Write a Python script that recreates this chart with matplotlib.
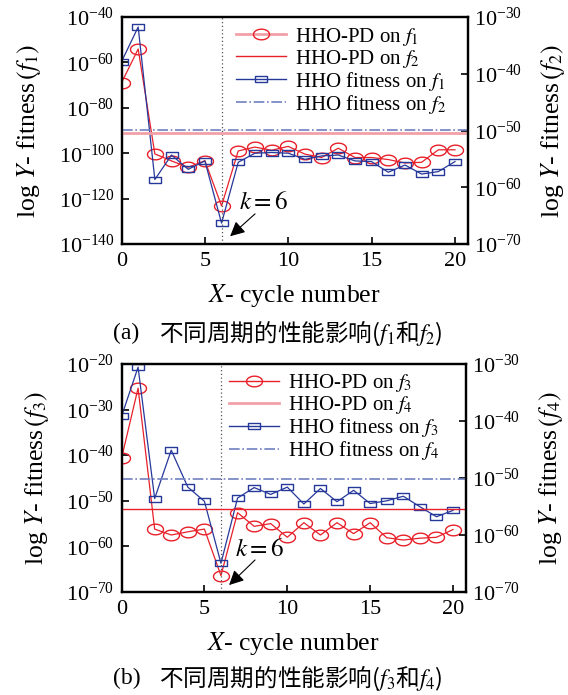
import numpy as np
import matplotlib
matplotlib.use('Agg')
import matplotlib.pyplot as plt
from matplotlib.lines import Line2D
from matplotlib.ticker import FixedLocator, FuncFormatter, NullLocator

plt.rcParams['font.family'] = ['Liberation Serif', 'DejaVu Serif']
plt.rcParams['mathtext.fontset'] = 'stix'

# cycle number on x
cycles = list(range(21))

# log10 of fitness
pd_f1 = [-69, -54.1, -100.3, -103.4, -106.2, -103.3, -123.2, -99, -97.3, -98.7, -97,
         -100.4, -101.9, -97.8, -101.9, -101.9, -102.8, -104.3, -104, -98.5, -98.5]
fit_f1 = [-59.7, -44.4, -111.6, -100.8, -107.1, -103.4, -130.8, -104, -100, -99.7, -100,
          -102.7, -101.2, -100.8, -103.4, -103.7, -108.4, -105.2, -109.2, -108.1, -103.7]
pd_f2 = -50.5      # constant, right axis
fit_f2 = -49.9

pd_f3 = [-40.7, -25.3, -56.2, -57.5, -56.8, -56.2, -66.4, -52.6, -55.6, -55, -58,
         -54.8, -57.5, -54.8, -57.2, -54.8, -58.1, -58.6, -58.2, -58, -56.3]
fit_f3 = [-31.5, -20.7, -49.5, -38.9, -47, -50.1, -63.7, -49.4, -47.1, -48.6, -47,
          -50.7, -47.3, -50.2, -47.7, -50.6, -50, -49, -51.3, -53.5, -52.1]
pd_f4 = -55.5
fit_f4 = -50.2

k_best = 6

RED = '#e8202a'
PINK = '#f2a0a8'
NAVY = '#26389a'
SLATE = '#7080c0'

t = np.linspace(0, 2 * np.pi, 60)
ellipse = np.column_stack([1.5 * np.cos(t), np.sin(t)])
rect = [(-1.7, -1), (1.7, -1), (1.7, 1), (-1.7, 1), (-1.7, -1)]


def fmt(v, p):
    return r'$\mathdefault{10^{%d}}$' % round(np.log10(v))


def panel(ax, pd, fit, pd2, fit2, lims_l, lims_r, names, pd_style, fit_style,
          pd2_style, fit2_style, leg_anchor, arrow, ktext):
    x = np.array(cycles)
    ax.plot(x, 10.0 ** np.array(pd), color=RED, lw=0.9, marker=ellipse, ms=11.5,
            mfc='none', mec=RED, mew=1.0, clip_on=True)
    ax.plot(x, 10.0 ** np.array(fit), color=NAVY, lw=0.9, marker=rect, ms=8.5,
            mfc='none', mec=NAVY, mew=1.0, clip_on=True)
    ax.set_yscale('log')
    ax.set_ylim(10.0 ** lims_l[0], 10.0 ** lims_l[1])
    ax.set_xlim(0, 20.75)
    ax.axvline(k_best, color='#555555', lw=0.9, ls=(0, (1, 2)))

    ax2 = ax.twinx()
    ax2.set_yscale('log')
    ax2.set_ylim(10.0 ** lims_r[0], 10.0 ** lims_r[1])
    ax2.axhline(10.0 ** pd2, **pd2_style)
    ax2.axhline(10.0 ** fit2, **fit2_style)

    ll = np.arange(lims_l[0], lims_l[1] + 1, (lims_l[1] - lims_l[0]) // 5)
    rr = np.arange(lims_r[0], lims_r[1] + 1, 10)
    ax.yaxis.set_major_locator(FixedLocator(10.0 ** ll))
    ax.yaxis.set_major_formatter(FuncFormatter(fmt))
    ax.yaxis.set_minor_locator(NullLocator())
    ax2.yaxis.set_major_locator(FixedLocator(10.0 ** rr))
    ax2.yaxis.set_major_formatter(FuncFormatter(fmt))
    ax2.yaxis.set_minor_locator(NullLocator())
    ax.set_xticks([0, 5, 10, 15, 20])

    for a in (ax, ax2):
        a.tick_params(direction='in', length=5, width=1.2, labelsize=16, pad=5)
        for s in a.spines.values():
            s.set_linewidth(1.6)
    ax.tick_params(axis='x', pad=6)

    ax.set_xlabel(r'$X$- cycle number', fontsize=18.5, labelpad=8)
    ax.set_ylabel(r'log $Y$- fitness$\,(f_%s)$' % names[0], fontsize=18.5, labelpad=11)
    ax2.set_ylabel(r'log $Y$- fitness$\,(f_%s)$' % names[1], fontsize=18.5, labelpad=12)

    handles = [Line2D([], [], marker=ellipse, ms=11.5, mfc='none', mec=RED, **pd_style),
               Line2D([], [], **pd2_style),
               Line2D([], [], marker=rect, ms=8.5, mfc='none', mec=NAVY, **fit_style),
               Line2D([], [], **fit2_style)]
    labels = [r'HHO-PD on $f_%s$' % names[0], r'HHO-PD on $f_%s$' % names[1],
              r'HHO fitness on $f_%s$' % names[0], r'HHO fitness on $f_%s$' % names[1]]
    ax2.legend(handles, labels, loc='upper left', bbox_to_anchor=leg_anchor,
               frameon=False, fontsize=15, handlelength=2.4, handletextpad=0.45,
               labelspacing=0.0, borderpad=0, borderaxespad=0)

    ax.annotate('', xy=arrow[0], xytext=arrow[1], xycoords='axes fraction',
                arrowprops=dict(arrowstyle='-|>', color='k', lw=0.8, mutation_scale=22))
    ax.text(ktext[0], ktext[1], r'$k=6$', transform=ax.transAxes, fontsize=18,
            ha='center', va='center')
    return ax2


fig = plt.figure(figsize=(5.68, 6.95), dpi=100)
W, H = 568, 695
ax_a = fig.add_axes([121.5 / W, 1 - 244 / H, 346 / W, 227 / H])
ax_b = fig.add_axes([121.5 / W, 1 - 592 / H, 344 / W, 228 / H])

panel(ax_a, pd_f1, fit_f1, pd_f2, fit_f2, (-140, -40), (-70, -30), ('1', '2'),
      dict(color=PINK, lw=2.0), dict(color=NAVY, lw=1.0),
      dict(color=PINK, lw=2.0), dict(color=SLATE, lw=1.2, ls='-.'),
      (0.331, 0.962), ((0.308, 0.026), (0.392, 0.141)), (0.412, 0.18))
# top panel legend: second entry drawn thin red
leg = ax_a.figure.axes[-1].get_legend()
leg.get_lines()[1].set_color(RED)
leg.get_lines()[1].set_linewidth(1.0)

panel(ax_b, pd_f3, fit_f3, pd_f4, fit_f4, (-70, -20), (-70, -30), ('3', '4'),
      dict(color=RED, lw=1.0), dict(color=NAVY, lw=1.0),
      dict(color=RED, lw=1.0), dict(color=SLATE, lw=1.2, ls='-.'),
      (0.3125, 0.965), ((0.307, 0.022), (0.394, 0.149)), (0.40, 0.184))
leg = ax_b.figure.axes[-1].get_legend()
leg.get_lines()[1].set_color(PINK)
leg.get_lines()[1].set_linewidth(2.0)

cap = dict(fontsize=17, va='center', ha='left')
fig.text(113 / W, 1 - 333 / H, '(a)', **cap)
fig.text(159 / W, 1 - 333 / H, r'不同周期的性能影响($f_1$和$f_2$)', family='Noto Sans CJK SC', **cap)
fig.text(113 / W, 1 - 678 / H, '(b)', **cap)
fig.text(159 / W, 1 - 678 / H, r'不同周期的性能影响($f_3$和$f_4$)', family='Noto Sans CJK SC', **cap)

fig.savefig('out.png', dpi=100)
